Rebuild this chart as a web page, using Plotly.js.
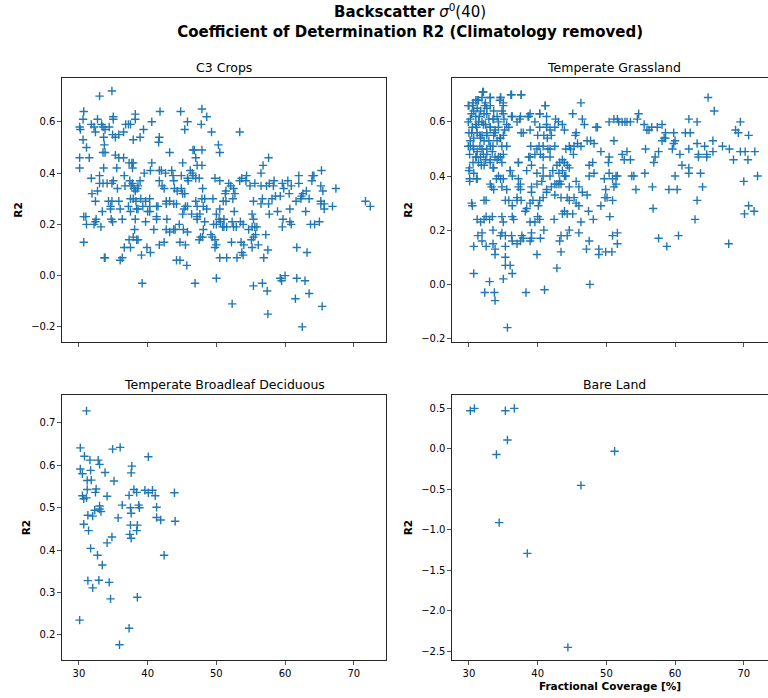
<!DOCTYPE html>
<html><head><meta charset="utf-8">
<script src="https://cdn.plot.ly/plotly-3.0.1.min.js"></script>
<style>html,body{margin:0;padding:0;background:#fff;overflow:hidden}#chart{width:768px;height:698px}</style>
</head><body><div id="chart"></div>
<script>
// ---- data ----
const panelTitles = ['C3 Crops', 'Temperate Grassland', 'Temperate Broadleaf Deciduous', 'Bare Land'];
const xTickVals = [30, 40, 50, 60, 70];
const c3YTicks = [-0.2, 0.0, 0.2, 0.4, 0.6];
const grassYTicks = [-0.2, 0.0, 0.2, 0.4, 0.6];
const broadleafYTicks = [0.2, 0.3, 0.4, 0.5, 0.6, 0.7];
const bareYTicks = [-2.5, -2.0, -1.5, -1.0, -0.5, 0.0, 0.5];

const c3X = [
34.8,33.0,30.7,35.0,38.2,41.8,44.8,47.9,48.6,30.6,
32.7,35.0,38.2,40.6,45.8,30.1,30.2,31.8,32.2,33.3,
33.5,34.4,32.4,33.8,34.9,35.3,35.8,36.5,36.8,37.2,
37.5,39.4,45.4,47.8,49.3,30.6,31.1,33.6,37.9,38.9,
41.7,41.6,50.3,33.7,33.8,33.5,43.2,46.6,46.8,47.9,
50.5,30.1,31.5,35.3,35.8,36.5,37.3,37.7,37.9,37.8,
40.6,45.1,47.0,47.2,47.9,30.1,33.6,35.5,39.5,40.4,
41.7,42.0,42.6,43.5,46.2,46.5,46.6,47.0,47.5,31.8,
33.0,36.6,37.4,37.8,37.6,36.7,38.0,38.9,41.7,42.1,
42.4,43.7,43.8,44.9,45.8,45.9,49.8,50.5,33.0,33.5,
34.1,34.8,35.0,31.9,32.7,35.6,38.2,38.5,38.6,43.9,
44.3,44.9,45.1,45.4,48.0,51.3,32.4,34.3,34.8,35.8,
37.5,37.9,38.3,39.0,39.7,40.3,42.7,43.2,43.8,47.0,
47.9,48.3,49.5,51.0,34.6,37.2,38.6,39.3,40.3,40.0,
41.3,41.5,42.7,44.2,45.5,47.2,48.1,48.6,33.4,34.6,
36.0,37.5,38.4,40.3,45.3,45.8,45.1,46.4,47.2,47.6,
50.0,50.5,50.4,50.9,30.7,31.0,31.1,32.2,32.4,32.5,
33.2,34.7,34.9,36.3,38.2,39.7,41.3,41.3,42.8,43.8,
44.6,45.2,45.8,47.2,48.3,49.6,50.0,50.6,51.1,38.1,
40.9,42.7,43.2,44.0,48.1,48.0,49.2,49.4,49.8,30.7,
37.3,37.9,38.4,38.6,37.5,36.6,39.9,40.4,39.1,41.7,
42.4,44.7,45.5,47.5,47.7,49.8,50.0,50.5,33.7,33.8,
36.0,36.3,44.2,44.7,45.7,39.2,46.9,50.0,
53.4,57.6,56.8,56.5,54.4,53.7,53.4,51.8,52.1,52.5,
54.3,54.9,55.6,56.5,57.3,57.7,58.4,58.3,59.6,60.4,
62.0,62.0,63.9,64.2,64.0,65.3,65.2,65.5,67.4,51.4,
52.7,52.4,51.4,55.4,56.7,56.5,57.6,58.1,58.6,59.3,
59.8,60.6,60.9,61.6,62.4,62.3,63.1,62.6,63.5,65.2,
65.7,65.2,65.7,66.9,71.7,72.4,52.6,55.2,55.4,57.7,
58.9,59.7,60.7,63.0,60.7,60.9,63.7,64.3,65.0,51.1,
51.5,52.3,52.5,52.9,53.5,53.9,54.7,55.2,55.6,55.9,
55.7,55.4,55.1,57.2,59.6,52.2,53.6,54.0,55.2,56.1,
57.5,56.9,61.7,63.2,51.5,53.0,53.7,53.9,55.4,56.7,
57.4,59.3,59.5,60.0,61.7,62.9,63.5,61.5,52.3,57.5,
65.4,62.5];
const c3Y = [
0.72,0.70,0.64,0.62,0.63,0.64,0.64,0.65,0.62,0.61,
0.61,0.61,0.61,0.60,0.60,0.58,0.57,0.59,0.58,0.59,
0.58,0.58,0.56,0.57,0.55,0.54,0.55,0.56,0.59,0.59,
0.59,0.57,0.57,0.59,0.56,0.53,0.50,0.54,0.53,0.54,
0.54,0.52,0.51,0.51,0.48,0.48,0.48,0.49,0.49,0.49,
0.48,0.46,0.46,0.47,0.46,0.46,0.44,0.44,0.44,0.42,
0.44,0.44,0.46,0.43,0.43,0.42,0.42,0.42,0.40,0.41,
0.41,0.41,0.40,0.41,0.41,0.40,0.39,0.38,0.38,0.38,
0.39,0.39,0.37,0.36,0.35,0.35,0.34,0.37,0.37,0.35,
0.34,0.39,0.37,0.39,0.38,0.37,0.38,0.37,0.36,0.36,
0.36,0.36,0.37,0.32,0.33,0.34,0.33,0.34,0.35,0.34,
0.33,0.34,0.32,0.32,0.34,0.32,0.29,0.29,0.29,0.29,
0.30,0.30,0.29,0.30,0.29,0.30,0.29,0.29,0.28,0.29,
0.30,0.30,0.30,0.29,0.27,0.27,0.26,0.27,0.27,0.25,
0.27,0.27,0.28,0.28,0.27,0.27,0.27,0.26,0.25,0.26,
0.26,0.25,0.26,0.25,0.26,0.27,0.24,0.24,0.22,0.24,
0.24,0.26,0.22,0.19,0.23,0.23,0.20,0.20,0.21,0.22,
0.19,0.22,0.21,0.22,0.22,0.21,0.22,0.23,0.22,0.18,
0.20,0.18,0.17,0.23,0.21,0.20,0.20,0.21,0.22,0.18,
0.18,0.18,0.17,0.18,0.18,0.15,0.16,0.15,0.14,0.13,
0.14,0.15,0.14,0.14,0.11,0.11,0.11,0.09,0.08,0.12,
0.13,0.13,0.12,0.14,0.15,0.11,0.12,0.07,0.07,0.07,
0.06,0.07,0.06,0.06,0.04,-0.03,-0.03,-0.01,
0.56,0.46,0.43,0.40,0.39,0.38,0.37,0.36,0.35,0.34,
0.37,0.35,0.36,0.35,0.35,0.36,0.37,0.35,0.36,0.37,
0.39,0.36,0.37,0.39,0.39,0.41,0.35,0.33,0.34,0.33,
0.32,0.30,0.29,0.29,0.30,0.28,0.28,0.30,0.31,0.31,
0.34,0.32,0.35,0.29,0.31,0.30,0.33,0.32,0.30,0.29,
0.28,0.28,0.26,0.27,0.29,0.27,0.25,0.24,0.22,0.24,
0.25,0.22,0.26,0.25,0.21,0.20,0.20,0.20,0.21,0.19,
0.19,0.21,0.19,0.19,0.21,0.20,0.18,0.19,0.19,0.19,
0.16,0.15,0.14,0.16,0.19,0.13,0.13,0.12,0.11,0.12,
0.10,0.07,0.11,0.09,0.07,0.07,0.09,0.08,-0.04,-0.03,
-0.06,-0.01,-0.02,0.00,-0.01,-0.02,-0.07,-0.09,-0.11,-0.15,
-0.12,-0.20];

const grassX = [
32.1,36.2,37.6,30.0,30.5,31.0,31.4,31.9,32.4,33.1,
34.6,35.0,34.5,32.6,31.2,30.7,31.7,33.6,34.8,36.3,
37.5,38.7,38.9,40.3,41.1,41.3,42.6,30.2,31.0,32.2,
32.9,33.6,34.1,35.1,35.5,35.8,37.0,37.6,39.6,40.3,
41.3,41.8,42.0,42.5,43.0,30.0,30.5,31.0,31.4,31.9,
32.4,33.1,33.8,34.3,31.2,31.9,32.6,33.6,34.6,35.0,
31.7,32.9,34.1,30.2,30.7,32.2,33.1,34.8,39.0,40.0,
40.9,41.4,40.2,40.8,41.5,42.5,39.6,40.4,41.8,30.2,
30.7,31.2,31.9,32.6,33.4,33.8,34.6,35.0,30.1,31.0,
31.7,32.4,33.1,34.1,34.8,31.4,32.2,33.6,37.2,38.7,
39.1,38.4,40.8,42.2,42.8,43.2,39.9,40.8,41.8,30.0,
30.7,30.1,31.2,33.1,33.6,34.3,34.6,35.0,36.0,36.3,
37.2,37.5,35.5,39.1,39.9,40.6,41.3,42.0,42.5,42.8,
43.2,37.5,39.1,37.0,37.6,39.3,40.8,41.3,42.5,30.4,
30.5,32.2,32.5,35.3,35.8,36.3,37.0,38.4,38.9,40.1,
40.3,31.2,31.7,32.2,32.5,33.0,33.4,34.8,35.0,36.3,
36.5,38.2,38.9,40.0,39.6,40.3,42.4,31.3,31.9,33.5,
34.6,34.8,35.3,36.2,37.7,37.9,39.1,39.1,40.4,40.9,
30.7,31.9,32.5,33.5,33.8,35.3,36.3,37.0,37.5,38.9,
39.9,42.8,43.2,33.8,35.3,35.3,36.0,36.3,35.0,30.7,
33.0,32.3,33.7,33.8,38.3,41.0,35.6,
46.3,45.1,46.5,46.8,48.5,48.7,43.6,43.9,50.4,51.1,
51.6,51.8,52.3,52.7,53.0,53.5,54.5,54.7,55.5,55.9,
56.2,56.6,57.4,58.1,58.6,59.8,61.5,62.0,62.2,63.2,
64.8,65.7,69.5,68.8,69.2,70.7,45.5,45.6,45.2,45.3,
45.8,44.6,44.1,44.8,46.3,47.2,47.7,48.2,49.2,51.1,
50.4,50.3,52.3,52.6,53.0,53.5,55.7,56.9,57.1,57.6,
58.1,58.4,58.6,59.6,59.8,60.0,60.7,62.0,62.0,62.0,
63.2,63.4,63.4,64.3,64.6,64.6,65.5,65.5,66.9,67.9,
68.5,69.5,70.2,70.6,71.6,43.6,43.9,44.3,43.6,44.1,
43.1,44.6,45.6,47.5,48.0,48.2,47.5,49.7,50.4,50.9,
51.4,51.6,53.7,54.0,55.6,56.7,59.1,60.0,60.3,61.0,
63.7,64.0,70.0,72.0,43.1,43.4,43.9,44.6,46.0,46.5,
47.2,43.4,44.3,44.6,45.3,45.6,46.0,49.9,51.1,51.4,
50.1,50.9,49.8,49.2,54.3,43.9,43.6,44.3,45.1,46.3,
47.4,48.1,50.5,56.8,63.2,62.9,70.1,70.7,71.5,43.4,
44.3,44.6,46.0,47.5,47.1,48.9,48.9,49.9,50.8,50.9,
51.6,51.6,57.6,58.8,60.5,67.8,43.4,47.6,
32.0,33.1,34.6,36.1,37.6,29.9,30.6,31.2,32.3,33.1,
35.0,35.0,36.2,37.4,38.6,41.1,40.3,30.4,31.5,32.6,
33.5,29.9,31.1,32.1,33.1,34.3,35.2,30.4,31.6,32.6,
33.8,34.5,29.9,30.6,31.6,32.6,33.5,35.5,31.1,32.1,
33.1,34.3,30.6,31.8,30.1,33.5,36.0,37.2,38.9,39.9,
40.8,41.8,38.9,37.9,41.3,30.1,31.1,34.0,34.8,37.2,
33.3];
const grassY = [
0.71,0.70,0.70,0.66,0.66,0.68,0.68,0.69,0.67,0.69,
0.69,0.67,0.68,0.65,0.65,0.64,0.64,0.64,0.64,0.62,
0.62,0.62,0.63,0.63,0.66,0.62,0.61,0.61,0.62,0.63,
0.61,0.61,0.62,0.61,0.59,0.58,0.60,0.56,0.60,0.58,
0.59,0.57,0.55,0.58,0.60,0.56,0.58,0.59,0.60,0.60,
0.59,0.58,0.57,0.58,0.56,0.55,0.56,0.55,0.54,0.55,
0.54,0.53,0.53,0.53,0.54,0.53,0.51,0.51,0.51,0.55,
0.55,0.54,0.51,0.51,0.50,0.51,0.48,0.48,0.47,0.51,
0.50,0.49,0.50,0.48,0.49,0.47,0.47,0.48,0.48,0.47,
0.47,0.46,0.45,0.46,0.45,0.45,0.44,0.43,0.45,0.47,
0.44,0.42,0.43,0.42,0.44,0.45,0.41,0.40,0.40,0.42,
0.41,0.38,0.39,0.37,0.35,0.40,0.39,0.39,0.42,0.40,
0.39,0.37,0.35,0.36,0.37,0.38,0.35,0.36,0.37,0.37,
0.38,0.35,0.34,0.32,0.31,0.31,0.32,0.34,0.33,0.30,
0.29,0.31,0.31,0.31,0.31,0.29,0.31,0.28,0.30,0.29,
0.31,0.24,0.23,0.24,0.25,0.24,0.25,0.25,0.23,0.25,
0.24,0.27,0.23,0.25,0.23,0.24,0.24,0.18,0.19,0.20,
0.18,0.19,0.18,0.18,0.18,0.17,0.19,0.17,0.17,0.20,
0.14,0.16,0.14,0.15,0.13,0.14,0.16,0.15,0.16,0.16,
0.11,0.06,0.16,0.11,0.10,0.07,0.07,0.04,0.02,0.04,
0.01,-0.03,-0.03,-0.06,-0.03,-0.02,-0.16,
0.67,0.63,0.61,0.59,0.58,0.58,0.59,0.57,0.60,0.61,
0.61,0.60,0.60,0.60,0.60,0.60,0.61,0.63,0.59,0.57,
0.57,0.58,0.58,0.59,0.56,0.56,0.56,0.61,0.56,0.60,
0.69,0.64,0.60,0.57,0.56,0.55,0.55,0.56,0.48,0.51,
0.52,0.51,0.50,0.50,0.51,0.53,0.53,0.52,0.49,0.53,
0.47,0.45,0.48,0.46,0.49,0.46,0.50,0.45,0.47,0.49,
0.53,0.54,0.54,0.50,0.52,0.53,0.48,0.50,0.43,0.41,
0.52,0.48,0.47,0.51,0.48,0.47,0.53,0.49,0.51,0.50,
0.46,0.49,0.49,0.46,0.49,0.46,0.45,0.44,0.42,0.40,
0.41,0.43,0.38,0.44,0.45,0.41,0.40,0.39,0.41,0.39,
0.40,0.40,0.40,0.40,0.41,0.36,0.35,0.40,0.35,0.44,
0.41,0.36,0.38,0.40,0.37,0.37,0.40,0.36,0.36,0.34,
0.33,0.32,0.32,0.31,0.32,0.30,0.29,0.35,0.36,0.37,
0.32,0.31,0.32,0.29,0.35,0.27,0.26,0.26,0.26,0.23,
0.27,0.24,0.25,0.28,0.31,0.24,0.26,0.29,0.27,0.18,
0.18,0.20,0.19,0.16,0.13,0.13,0.11,0.12,0.12,0.18,
0.19,0.15,0.17,0.14,0.18,0.15,0.12,0.00,
0.71,0.69,0.69,0.70,0.70,0.66,0.67,0.68,0.66,0.66,
0.66,0.63,0.62,0.61,0.62,0.66,0.63,0.63,0.62,0.63,
0.61,0.60,0.58,0.59,0.58,0.60,0.57,0.56,0.55,0.55,
0.56,0.54,0.51,0.51,0.51,0.50,0.51,0.51,0.47,0.48,
0.46,0.47,0.45,0.44,0.43,0.43,0.42,0.45,0.47,0.50,
0.47,0.50,0.57,0.56,0.58,0.39,0.39,0.39,0.36,0.36,
0.36];

const broadleafX = [
31.1,30.2,30.8,31.6,32.8,33.0,30.2,31.7,30.5,33.8,
31.2,31.8,35.1,34.9,36.0,40.1,37.7,37.6,31.2,32.5,
32.4,30.5,31.1,30.7,34.1,38.0,38.4,37.3,39.6,40.1,
40.7,41.1,43.9,33.0,33.0,33.2,32.3,36.3,37.5,38.7,
38.8,41.3,37.6,31.3,32.0,35.7,41.3,41.9,44.0,30.7,
37.5,38.5,31.4,38.4,37.4,37.6,34.8,34.1,31.7,32.7,
42.4,33.4,31.3,32.9,34.4,32.0,34.6,38.5,30.1,37.3,
35.9];
const broadleafY = [
0.728,0.641,0.621,0.612,0.612,0.602,0.591,0.588,0.580,0.583,
0.564,0.565,0.563,0.638,0.642,0.620,0.598,0.582,0.543,0.544,
0.536,0.528,0.523,0.521,0.527,0.543,0.536,0.529,0.541,0.535,
0.541,0.528,0.535,0.504,0.497,0.491,0.494,0.506,0.500,0.506,
0.500,0.501,0.487,0.482,0.480,0.476,0.477,0.471,0.468,0.461,
0.459,0.459,0.446,0.446,0.437,0.428,0.431,0.417,0.404,0.388,
0.388,0.365,0.328,0.329,0.324,0.311,0.285,0.289,0.235,0.216,
0.177];

const bareX = [30.2, 30.8, 35.3, 36.6, 35.6, 34.0, 51.2, 46.3, 34.4, 38.5, 44.4];
const bareY = [0.47, 0.50, 0.47, 0.50, 0.11, -0.07, -0.03, -0.45, -0.91, -1.29, -2.45];

// ---- styling ----
const FONT = 'DejaVu Sans, Verdana, sans-serif';
const blue = '#1f77b4';
const lineCol = '#262626';
const tickFont = {family: FONT, size: 10, color: '#000'};

function trace(x, y, xa, ya, name) {
  return {type: 'scatter', mode: 'markers', x: x, y: y, xaxis: xa, yaxis: ya, name: name,
    showlegend: false, hoverinfo: 'skip',
    marker: {symbol: 'cross-thin', size: 6, color: blue, line: {color: blue, width: 1.4}}};
}

const LX = [0.0807, 0.5026], RX = [0.5885, 1.0];
const TY = [0.5100, 0.8883], BY = [0.0544, 0.4341];

function xAxis(domain, range, anchor, showLabels, title) {
  const a = {domain: domain, range: range, anchor: anchor, showline: true, linecolor: lineCol, linewidth: 1,
    mirror: true, ticks: 'outside', ticklen: 3.5, tickwidth: 0.8, tickcolor: lineCol,
    tickmode: 'array', tickvals: xTickVals, showticklabels: showLabels, showgrid: false, zeroline: false,
    tickfont: tickFont, automargin: false, fixedrange: true};
  if (title) a.title = {text: title, font: {family: FONT, size: 10.5, color: '#000'}, standoff: 5};
  return a;
}
function yAxis(domain, range, anchor, ticks, mirror) {
  return {domain: domain, range: range, anchor: anchor, showline: true, linecolor: lineCol, linewidth: 1,
    mirror: mirror, ticks: 'outside', ticklen: 3.5, tickwidth: 0.8, tickcolor: lineCol,
    tickmode: 'array', tickvals: ticks, tickformat: '.1f', showgrid: false, zeroline: false,
    tickfont: tickFont, automargin: false, fixedrange: true,
    title: {text: '<b>R2</b>', font: {family: FONT, size: 10.5, color: '#000'}, standoff: 6}};
}

const data = [
  trace(c3X, c3Y, 'x', 'y', panelTitles[0]),
  trace(grassX, grassY, 'x2', 'y2', panelTitles[1]),
  trace(broadleafX, broadleafY, 'x3', 'y3', panelTitles[2]),
  trace(bareX, bareY, 'x4', 'y4', panelTitles[3])
];

function sub(text, x, y) {
  return {text: text, xref: 'paper', yref: 'paper', x: x, y: y, xanchor: 'center', yanchor: 'bottom',
    showarrow: false, font: {family: FONT, size: 12.5, color: '#000'}};
}

const layout = {
  width: 768, height: 698,
  margin: {l: 0, r: 0, t: 0, b: 0, pad: 0},
  paper_bgcolor: '#fff', plot_bgcolor: '#fff',
  font: {family: FONT, color: '#000'},
  title: {text: '<b>Backscatter</b> <i>σ</i><sup>0</sup>(40)<br><b>Coefficient of Determination R2 (Climatology removed)</b>',
    x: 0.534, xanchor: 'center', y: 0.9755, yanchor: 'top', yref: 'container',
    font: {family: FONT, size: 15, color: '#000'}},
  xaxis: xAxis(LX, [27.53, 74.69], 'y', false),
  yaxis: yAxis(TY, [-0.259, 0.771], 'x', c3YTicks, true),
  xaxis2: xAxis(RX, [27.53, 73.52], 'y2', false),
  yaxis2: yAxis(TY, [-0.213, 0.762], 'x2', grassYTicks, false),
  xaxis3: xAxis(LX, [27.53, 74.69], 'y3', true),
  yaxis3: yAxis(BY, [0.141, 0.7655], 'x3', broadleafYTicks, true),
  xaxis4: xAxis(RX, [27.53, 73.52], 'y4', true, '<b>Fractional Coverage [%]</b>'),
  yaxis4: yAxis(BY, [-2.606, 0.665], 'x4', bareYTicks, false),
  annotations: [
    sub(panelTitles[0], 0.2917, 0.8898),
    sub(panelTitles[1], 0.7995, 0.8898),
    sub(panelTitles[2], 0.2917, 0.4356),
    sub(panelTitles[3], 0.7995, 0.4356)
  ]
};

Plotly.newPlot('chart', data, layout, {staticPlot: true, displayModeBar: false});
</script>
</body></html>
